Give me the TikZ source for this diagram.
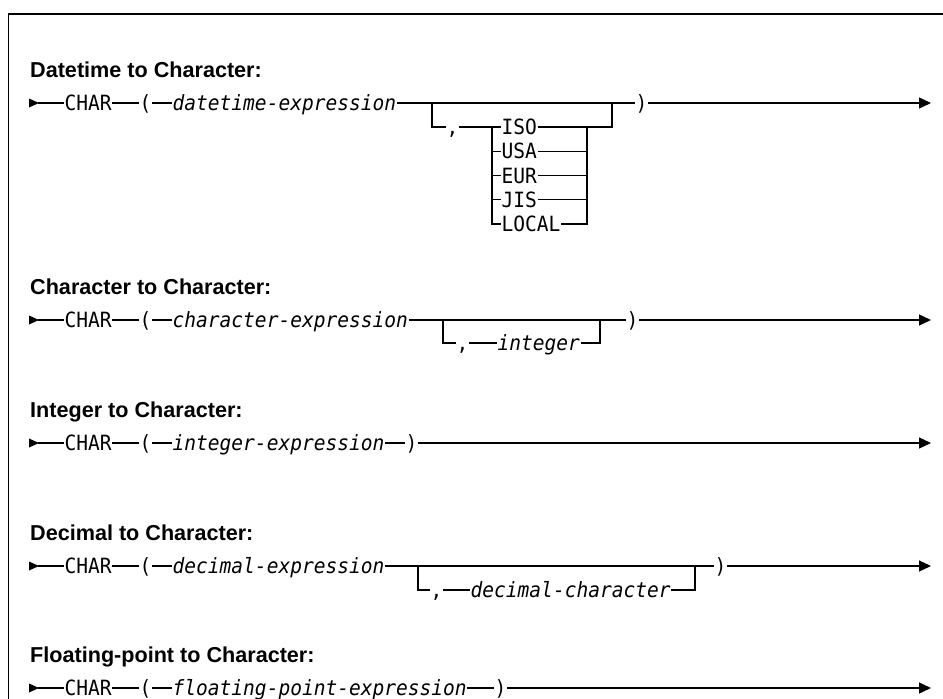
\documentclass[tikz,border=0pt]{standalone}
\usepackage{fontspec}
\setmainfont{Liberation Sans}
\newfontfamily\synmono[FakeStretch=0.93]{DejaVu Sans Mono}
\usetikzlibrary{arrows.meta}
\newcommand\synbegin[2]{%
  \coordinate (#1r) at (0,#2);
  \coordinate (#1s) at (29,#2);
  \fill (#1s) ++(0,-4.5) -- ++(10,4.5) -- ++(-10,4.5) -- cycle;
  \coordinate (#1t) at (38,#2);
  \node[syn] (#1char) at (64,#2+7.5) {CHAR};
  \node[syn] (#1lp) at (139,#2+7.5) {(};
  \draw[rail] (#1t) -- (#1char.west |- #1r);
  \draw[rail] (#1char.east |- #1r) -- (#1lp.west |- #1r);
}
\newcommand\synfinish[3]{%
  \coordinate (#1e) at (931,#3);
  \draw[rail,-{Triangle[length=12pt,width=11pt]}] (#2.east |- #1r) -- (#1e);
}
\begin{document}
\begin{tikzpicture}[x=1pt,y=-1pt,
  syn/.style={font=\synmono\fontsize{21}{22}\selectfont, inner xsep=0.5pt, inner ysep=0pt, anchor=base west},
  synit/.style={syn, font=\synmono\itshape\fontsize{21}{22}\selectfont},
  head/.style={font=\bfseries\fontsize{21.6}{24}\selectfont, inner sep=0pt, anchor=base west},
  rail/.style={line width=1.3pt}]
\useasboundingbox (0,0) rectangle (943,699);
\draw[line width=1.6pt] (8.5,699) -- (8.5,14) -- (943,14);

% ---------- Datetime to Character
\node[head] (ha) at (30,77) {Datetime to Character:};
\synbegin{a}{103}
\node[synit] (aexp) at (172,110.5) {datetime-expression};
\node[syn] (arp) at (635,110.5) {)};
\coordinate (abl) at (432,103);
\coordinate (abr) at (612,103);
\coordinate (ay1) at (0,127);
\coordinate (ay2) at (0,151.25);
\coordinate (ay3) at (0,175.5);
\coordinate (ay4) at (0,199.75);
\coordinate (ay5) at (0,224);
\coordinate (ail) at (492,127);
\coordinate (air) at (587,127);
\node[syn] (acomma) at (446,134.5) {,};
\node[syn] (aiso) at (501,134.5) {ISO};
\node[syn] (ausa) at (501,158.75) {USA};
\node[syn] (aeur) at (501,183) {EUR};
\node[syn] (ajis) at (501,207.25) {JIS};
\node[syn] (aloc) at (501,231.5) {LOCAL};
\draw[rail] (alp.east |- ar) -- (aexp.west |- ar);
\draw[rail] (aexp.east |- ar) -- (arp.west |- ar);
\draw[rail] (abl) |- (acomma.west |- ay1);
\draw[rail] (acomma.east |- ay1) -- (aiso.west |- ay1);
\draw[rail] (aiso.east |- ay1) -| (abr);
\draw[rail] (ail) |- (aloc.west |- ay5);
\draw[rail] (ail |- ay2) -- (ausa.west |- ay2);
\draw[rail] (ail |- ay3) -- (aeur.west |- ay3);
\draw[rail] (ail |- ay4) -- (ajis.west |- ay4);
\draw[rail] (air) |- (aloc.east |- ay5);
\draw[rail] (ausa.east |- ay2) -- (air |- ay2);
\draw[rail] (aeur.east |- ay3) -- (air |- ay3);
\draw[rail] (ajis.east |- ay4) -- (air |- ay4);
\synfinish{a}{arp}{103}

% ---------- Character to Character
\node[head] (hb) at (30,294) {Character to Character:};
\synbegin{b}{320}
\node[synit] (bexp) at (172,327.5) {character-expression};
\node[syn] (brp) at (626,327.5) {)};
\coordinate (bbl) at (443,320);
\coordinate (bbr) at (600,320);
\coordinate (by1) at (0,343);
\node[syn] (bcomma) at (456,350.5) {,};
\node[synit] (bint) at (497,350.5) {integer};
\draw[rail] (blp.east |- br) -- (bexp.west |- br);
\draw[rail] (bexp.east |- br) -- (brp.west |- br);
\draw[rail] (bbl) |- (bcomma.west |- by1);
\draw[rail] (bcomma.east |- by1) -- (bint.west |- by1);
\draw[rail] (bint.east |- by1) -| (bbr);
\synfinish{b}{brp}{320}

% ---------- Integer to Character
\node[head] (hc) at (30,417) {Integer to Character:};
\synbegin{c}{443}
\node[synit] (cexp) at (172,450.5) {integer-expression};
\node[syn] (crp) at (405,450.5) {)};
\draw[rail] (clp.east |- cr) -- (cexp.west |- cr);
\draw[rail] (cexp.east |- cr) -- (crp.west |- cr);
\synfinish{c}{crp}{443}

% ---------- Decimal to Character
\node[head] (hd) at (30,540) {Decimal to Character:};
\synbegin{d}{566}
\node[synit] (dexp) at (172,573.5) {decimal-expression};
\node[syn] (drp) at (714,573.5) {)};
\coordinate (dbl) at (418,566);
\coordinate (dbr) at (695,566);
\coordinate (dy1) at (0,590);
\node[syn] (dcomma) at (430,597.5) {,};
\node[synit] (ddec) at (470,597.5) {decimal-character};
\draw[rail] (dlp.east |- dr) -- (dexp.west |- dr);
\draw[rail] (dexp.east |- dr) -- (drp.west |- dr);
\draw[rail] (dbl) |- (dcomma.west |- dy1);
\draw[rail] (dcomma.east |- dy1) -- (ddec.west |- dy1);
\draw[rail] (ddec.east |- dy1) -| (dbr);
\synfinish{d}{drp}{566}

% ---------- Floating-point to Character
\node[head] (he) at (30,662) {Floating-point to Character:};
\synbegin{e}{688}
\node[synit] (eexp) at (172,695.5) {floating-point-expression};
\node[syn] (erp) at (494,695.5) {)};
\draw[rail] (elp.east |- er) -- (eexp.west |- er);
\draw[rail] (eexp.east |- er) -- (erp.west |- er);
\synfinish{e}{erp}{688}
\end{tikzpicture}
\end{document}
